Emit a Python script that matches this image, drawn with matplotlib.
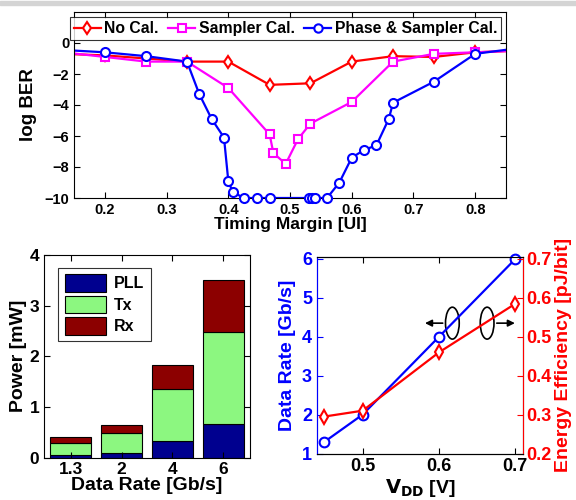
import matplotlib
matplotlib.use("Agg")
import matplotlib.pyplot as plt
from matplotlib.patches import Ellipse, Rectangle
import numpy as np

plt.rcParams['font.family'] = ['Liberation Sans', 'DejaVu Sans']
plt.rcParams['font.weight'] = 'bold'
plt.rcParams['axes.labelweight'] = 'bold'

# top: BER vs timing margin
x_nocal = [0.133, 0.2, 0.267, 0.333, 0.4, 0.467, 0.533, 0.6, 0.667, 0.733, 0.8, 0.867]
ber_nocal = [-0.7, -0.8, -1.0, -1.2, -1.2, -2.7, -2.6, -1.2, -0.85, -0.9, -0.6, -0.5]

x_samp = [0.133, 0.2, 0.267, 0.333, 0.4, 0.467, 0.473, 0.493, 0.513, 0.533,
          0.6, 0.667, 0.733, 0.8, 0.867]
ber_samp = [-0.6, -0.9, -1.2, -1.2, -2.9, -5.9, -7.1, -7.8, -6.2, -5.2,
            -3.8, -1.2, -0.7, -0.6, -0.5]

x_phase = [0.133, 0.2, 0.267, 0.333, 0.353, 0.373, 0.393, 0.4, 0.407, 0.425,
           0.447, 0.467, 0.531, 0.536, 0.54, 0.56, 0.58, 0.6, 0.62, 0.64,
           0.66, 0.667, 0.733, 0.8, 0.867]
ber_phase = [-0.45, -0.6, -0.85, -1.2, -3.3, -4.9, -6.1, -8.9, -9.6, -10,
             -10, -10, -10, -10, -10, -10, -9.0, -7.4, -6.9, -6.6,
             -4.9, -3.85, -2.5, -0.7, -0.35]

# bottom left: power breakdown
rates = ['1.3', '2', '4', '6']
p_pll = [0.05, 0.08, 0.33, 0.66]
p_tx = [0.24, 0.41, 1.02, 1.81]
p_rx = [0.11, 0.15, 0.48, 1.04]

# bottom right: data rate / energy efficiency vs VDD
vdd = [0.45, 0.5, 0.6, 0.7]
data_rate = [1.3, 2.0, 4.0, 6.0]
energy_eff = [0.295, 0.31, 0.46, 0.585]

fig = plt.figure(figsize=(5.76, 5.0), dpi=100)
fig.patches.append(Rectangle((0, 0.99), 1, 0.008, transform=fig.transFigure,
                             color='#d4d4d4', zorder=0))

# ---- top plot ----
ax = fig.add_axes([0.1285, 0.604, 0.75, 0.372])
xmin, xmax = 0.15, 0.85
series = [(x_nocal, ber_nocal, 'red', 'd', 'No Cal.'),
          (x_samp, ber_samp, 'magenta', 's', 'Sampler Cal.'),
          (x_phase, ber_phase, 'blue', 'o', 'Phase & Sampler Cal.')]
handles = []
for xs, ys, c, m, lab in series:
    xs = np.array(xs)
    ys = np.array(ys)
    ax.plot(xs, ys, color=c, lw=1.6)
    inside = (xs >= xmin) & (xs <= xmax)
    ax.plot(xs[inside], ys[inside], ls='none', marker=m, ms=6.5 if m != 's' else 5.5,
            mfc='white', mec=c, mew=1.5, clip_on=False, zorder=3)
    h, = ax.plot([], [], color=c, lw=1.6, marker=m, ms=6, mfc='white', mec=c, mew=1.5)
    handles.append(h)
ax.set_xlim(xmin, xmax)
ax.set_ylim(-10, 2)
ax.set_yticks([-10, -8, -6, -4, -2, 0])
ax.set_xticks([0.2, 0.3, 0.4, 0.5, 0.6, 0.7, 0.8])
ax.tick_params(direction='in', top=True, right=True, labelsize=10.5, length=4)
ax.set_xlabel('Timing Margin [UI]', fontsize=12.5, labelpad=0)
ax.set_ylabel('log BER', fontsize=13.5, labelpad=5)
leg = ax.legend(handles, ['No Cal.', 'Sampler Cal.', 'Phase & Sampler Cal.'],
                loc='upper center', ncol=3, fontsize=11.3, frameon=True, fancybox=False,
                handlelength=1.7, handletextpad=0.25, columnspacing=0.6,
                borderpad=0.25, borderaxespad=0.35, bbox_to_anchor=(0.49, 1.0))
leg.get_frame().set_edgecolor('black')
leg.get_frame().set_linewidth(0.8)

# ---- bottom left bar chart ----
ax2 = fig.add_axes([0.0764, 0.085, 0.3576, 0.405])
pos = np.arange(1, len(rates) + 1)
c_pll = (0.0, 0.0, 0.56)
c_tx = (0.55, 0.97, 0.5)
c_rx = (0.55, 0.0, 0.0)
ax2.bar(pos, p_pll, width=0.8, color=c_pll, edgecolor='black', lw=0.8, label='PLL')
ax2.bar(pos, p_tx, width=0.8, bottom=p_pll, color=c_tx, edgecolor='black', lw=0.8, label='Tx')
ax2.bar(pos, p_rx, width=0.8, bottom=np.array(p_pll) + np.array(p_tx), color=c_rx,
        edgecolor='black', lw=0.8, label='Rx')
ax2.set_xlim(0.48, 4.52)
ax2.set_ylim(0, 4)
ax2.set_yticks([0, 1, 2, 3, 4])
ax2.set_xticks(pos)
ax2.set_xticklabels(rates)
ax2.tick_params(direction='in', top=True, right=True, labelsize=12.5, length=4)
ax2.set_xlabel('Data Rate [Gb/s]', fontsize=14, labelpad=0)
ax2.set_ylabel('Power [mW]', fontsize=14, labelpad=2)
leg2 = ax2.legend(loc='upper left', fontsize=11.5, fancybox=False, handlelength=2.6,
                  handleheight=1.3, handletextpad=0.5, labelspacing=0.25,
                  borderpad=0.4, bbox_to_anchor=(0.03, 0.975))
leg2.get_frame().set_edgecolor('black')
leg2.get_frame().set_linewidth(0.8)

# ---- bottom right twin axes ----
ax3 = fig.add_axes([0.550, 0.093, 0.358, 0.393])
ax3.plot(vdd, data_rate, color='blue', lw=1.6, marker='o', ms=7, mfc='white',
         mec='blue', mew=1.5, clip_on=False, zorder=3)
ax3.set_xlim(0.44, 0.71)
ax3.set_ylim(1, 6.05)
ax3.set_xticks([0.5, 0.6, 0.7])
ax3.set_yticks([1, 2, 3, 4, 5, 6])
ax3.tick_params(axis='y', colors='blue', labelsize=13, direction='in', length=4)
ax3.tick_params(axis='x', labelsize=13, direction='in', top=True, length=4)
ax3.set_ylabel('Data Rate [Gb/s]', color='blue', fontsize=14, labelpad=4)
ax3.set_xlabel(r'$\mathbf{V_{DD}}$ [V]', fontsize=14, labelpad=1)
ax3.spines['left'].set_color('blue')

ax4 = ax3.twinx()
ax4.plot(vdd, energy_eff, color='red', lw=1.6, marker='d', ms=7, mfc='white',
         mec='red', mew=1.5, clip_on=False, zorder=3)
ax4.set_ylim(0.2, 0.705)
ax4.set_yticks([0.2, 0.3, 0.4, 0.5, 0.6, 0.7])
ax4.tick_params(axis='y', colors='red', labelsize=13, direction='in', length=4, pad=2)
ax4.set_ylabel('Energy Efficiency [pJ/bit]', color='red', fontsize=14, labelpad=3)
ax4.spines['right'].set_color('red')
ax4.spines['left'].set_color('blue')

# ellipses with arrows
ax3.add_patch(Ellipse((0.6175, 4.35), 0.018, 0.82, fill=False, ec='black', lw=1.2))
ax3.add_patch(Ellipse((0.663, 4.35), 0.018, 0.82, fill=False, ec='black', lw=1.2))
ax3.annotate('', xy=(0.578, 4.35), xytext=(0.6085, 4.35),
             arrowprops=dict(arrowstyle='-|>', color='black', lw=1.2, mutation_scale=10))
ax3.annotate('', xy=(0.703, 4.35), xytext=(0.672, 4.35),
             arrowprops=dict(arrowstyle='-|>', color='black', lw=1.2, mutation_scale=10))

fig.savefig('out.png', dpi=100)
